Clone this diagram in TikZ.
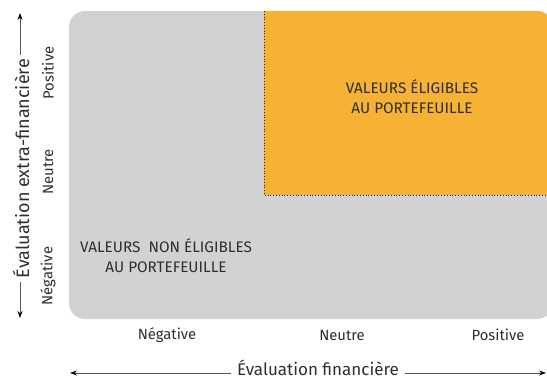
\documentclass[tikz,border=0pt]{standalone}
\usepackage{fontspec}
\setmainfont{Fira Sans}
\usetikzlibrary{arrows.meta}
\definecolor{greybg}{HTML}{D1D2D4}
\definecolor{orangebg}{HTML}{F6B234}
\definecolor{axiscol}{HTML}{5E4B6E}
\definecolor{txt}{HTML}{2E2E2E}
\tikzset{
  axisarrow/.style={draw=axiscol, line width=0.9pt, -{Stealth[length=7pt,width=5pt,color=black]}},
  axislabel/.style={font=\fontsize{17}{20}\selectfont, text=txt, inner sep=5.5pt},
  ticklabel/.style={font=\fontsize{14.8}{17}\selectfont, text=txt, inner sep=0pt},
  boxtext/.style={font=\fontsize{15.3}{20}\selectfont, text=txt, align=center, inner sep=0pt}
}
\begin{document}
\begin{tikzpicture}[x=1pt,y=-1pt]
\useasboundingbox (0,0) rectangle (547,378);
% grey field
\fill[greybg, rounded corners=16pt] (69,11) rectangle (553,319);
\begin{scope}
  \clip[rounded corners=16pt] (69,11) rectangle (553,319);
  \fill[orangebg] (264,11) rectangle (553,195);
\end{scope}
\draw[black!85, line width=0.8pt, dotted] (264,11) -- (264,195) -- (553,195);
% region labels
\node[boxtext] (elig) at (412,97) {VALEURS ÉLIGIBLES\\AU PORTEFEUILLE};
\node[boxtext] (nonelig) at (166,256) {VALEURS\ \ NON ÉLIGIBLES\\AU PORTEFEUILLE};
% tick labels bottom
\node[ticklabel] (xneg) at (167,335) {Négative};
\node[ticklabel] (xneu) at (342,335) {Neutre};
\node[ticklabel] (xpos) at (498,335) {Positive};
% tick labels left
\node[ticklabel, rotate=90] (yneg) at (48,276) {Négative};
\node[ticklabel, rotate=90] (yneu) at (48,172) {Neutre};
\node[ticklabel, rotate=90] (ypos) at (48,73) {Positive};
% horizontal axis
\node[axislabel] (xlab) at (318,367.5) {Évaluation financière};
\coordinate (xl) at (70,373);
\coordinate (xr) at (546,373);
\draw[axisarrow] (xlab.west |- xl) -- (xl);
\draw[axisarrow] (xlab.east |- xr) -- (xr);
% vertical axis
\node[axislabel, rotate=90, inner sep=4pt, font=\fontsize{18}{21}\selectfont] (ylab) at (21,168.5) {Évaluation extra-financière};
\coordinate (yt) at (20,13);
\coordinate (yb) at (20,318);
\draw[axisarrow] (ylab.east -| yt) -- (yt);
\draw[axisarrow] (ylab.west -| yb) -- (yb);
\end{tikzpicture}
\end{document}
